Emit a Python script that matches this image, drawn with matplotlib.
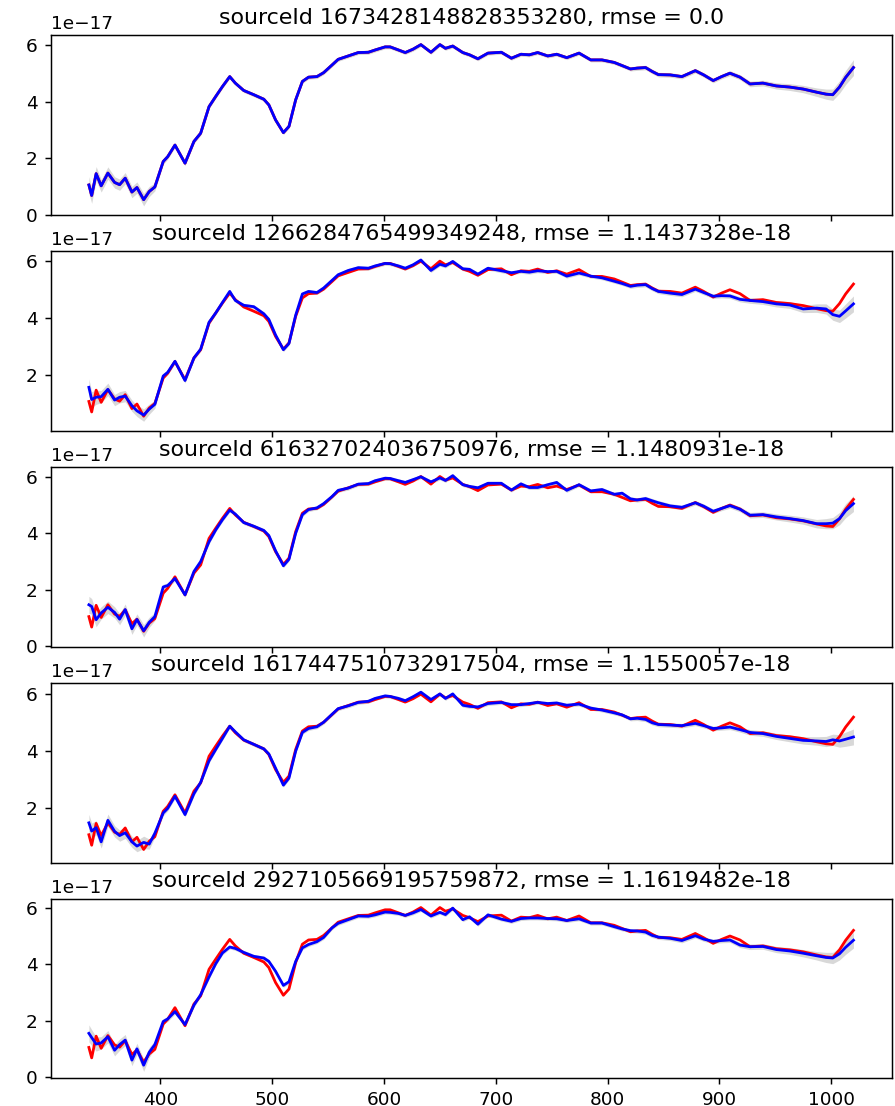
import matplotlib
matplotlib.use("Agg")
import matplotlib.pyplot as plt
import numpy as np

# wavelength grid (nm)
wavelength = [336, 338.5, 342.5, 347, 353, 359, 363.5, 368.5, 374.5, 379,
              385, 390, 395, 402.5, 406.5, 413, 422, 430, 436, 443.5,
              449.5, 455.5, 462, 467, 474.5, 483.5, 492.5, 497, 503, 510,
              515, 521, 527, 532.5, 540, 546, 553.5, 559, 568, 577,
              586, 592, 601, 605.5, 613, 619, 626, 633, 642, 650,
              655, 661.5, 670.5, 676.5, 684, 693, 705, 714, 722.5, 730,
              737.5, 746.5, 754.5, 763.5, 774.5, 785, 795, 806, 813, 820.5,
              826.5, 834, 840, 845.5, 856, 866.5, 878.5, 886, 894.5, 902,
              909.5, 918.5, 927.5, 939, 951, 963, 975, 987, 995.5, 1001.5,
              1007.5, 1013, 1020]

# reference spectrum (x 1e-17), red in every panel
ref_flux = [1.05, 0.68, 1.45, 1.02, 1.47, 1.14, 1.06, 1.29, 0.80, 0.96,
            0.53, 0.82, 0.98, 1.88, 2.05, 2.46, 1.82, 2.59, 2.88, 3.82,
            4.18, 4.53, 4.88, 4.65, 4.39, 4.24, 4.08, 3.88, 3.35, 2.90,
            3.12, 4.06, 4.71, 4.86, 4.88, 5.02, 5.29, 5.49, 5.61, 5.73,
            5.74, 5.82, 5.93, 5.93, 5.82, 5.73, 5.85, 6.01, 5.74, 6.01,
            5.88, 5.96, 5.73, 5.65, 5.51, 5.71, 5.74, 5.53, 5.67, 5.65,
            5.73, 5.61, 5.67, 5.55, 5.71, 5.47, 5.47, 5.38, 5.27, 5.15,
            5.18, 5.20, 5.06, 4.95, 4.94, 4.88, 5.09, 4.94, 4.74, 4.88,
            5.00, 4.86, 4.62, 4.65, 4.55, 4.51, 4.44, 4.33, 4.26, 4.24,
            4.51, 4.85, 5.20]

# neighbours (blue)
flux_1266 = [1.55, 1.12, 1.20, 1.22, 1.48, 1.10, 1.20, 1.24, 0.90, 0.72,
             0.57, 0.78, 0.95, 1.95, 2.08, 2.47, 1.79, 2.59, 2.90, 3.85,
             4.18, 4.55, 4.94, 4.62, 4.45, 4.40, 4.15, 3.95, 3.40, 2.88,
             3.10, 4.10, 4.85, 4.94, 4.90, 5.06, 5.33, 5.53, 5.68, 5.78,
             5.76, 5.84, 5.93, 5.92, 5.84, 5.76, 5.88, 6.05, 5.68, 5.90,
             5.84, 6.00, 5.74, 5.72, 5.55, 5.76, 5.67, 5.60, 5.65, 5.62,
             5.67, 5.64, 5.65, 5.48, 5.59, 5.48, 5.42, 5.30, 5.22, 5.12,
             5.16, 5.18, 5.04, 4.94, 4.88, 4.83, 5.02, 4.90, 4.77, 4.79,
             4.78, 4.66, 4.62, 4.58, 4.50, 4.46, 4.32, 4.35, 4.32, 4.12,
             4.06, 4.25, 4.50]

flux_6163 = [1.47, 1.41, 0.94, 1.18, 1.38, 1.20, 0.96, 1.30, 0.62, 0.95,
             0.55, 0.85, 1.05, 2.10, 2.15, 2.40, 1.82, 2.65, 3.00, 3.70,
             4.12, 4.48, 4.82, 4.68, 4.38, 4.25, 4.10, 3.92, 3.38, 2.85,
             3.08, 4.00, 4.66, 4.84, 4.90, 5.05, 5.30, 5.52, 5.60, 5.74,
             5.76, 5.86, 5.95, 5.94, 5.86, 5.80, 5.90, 6.00, 5.82, 5.96,
             5.87, 6.04, 5.72, 5.66, 5.61, 5.77, 5.77, 5.53, 5.75, 5.62,
             5.62, 5.72, 5.80, 5.52, 5.72, 5.50, 5.55, 5.38, 5.42, 5.22,
             5.18, 5.23, 5.15, 5.08, 4.97, 4.92, 5.08, 4.96, 4.78, 4.88,
             4.98, 4.85, 4.64, 4.66, 4.58, 4.52, 4.45, 4.34, 4.34, 4.36,
             4.52, 4.80, 5.05]

flux_1617 = [1.47, 1.18, 1.30, 0.80, 1.56, 1.17, 1.02, 1.12, 0.80, 0.65,
             0.78, 0.72, 1.10, 1.82, 1.98, 2.41, 1.76, 2.50, 2.90, 3.66,
             4.06, 4.45, 4.88, 4.68, 4.40, 4.24, 4.08, 3.90, 3.40, 2.80,
             3.05, 4.00, 4.66, 4.80, 4.86, 5.02, 5.30, 5.50, 5.60, 5.72,
             5.76, 5.86, 5.95, 5.93, 5.86, 5.78, 5.92, 6.08, 5.82, 6.02,
             5.86, 6.02, 5.62, 5.58, 5.56, 5.68, 5.72, 5.64, 5.64, 5.68,
             5.72, 5.68, 5.70, 5.62, 5.66, 5.52, 5.45, 5.35, 5.28, 5.14,
             5.16, 5.12, 5.00, 4.94, 4.92, 4.90, 4.98, 4.90, 4.80, 4.82,
             4.85, 4.76, 4.66, 4.62, 4.52, 4.45, 4.38, 4.36, 4.34, 4.40,
             4.36, 4.42, 4.50]

flux_2927 = [1.55, 1.40, 1.17, 1.21, 1.43, 0.95, 1.15, 1.31, 0.60, 1.00,
             0.42, 0.88, 1.15, 1.97, 2.06, 2.32, 1.86, 2.55, 2.92, 3.55,
             4.02, 4.40, 4.61, 4.56, 4.42, 4.28, 4.22, 4.10, 3.75, 3.25,
             3.38, 4.10, 4.58, 4.70, 4.80, 4.95, 5.29, 5.45, 5.58, 5.71,
             5.70, 5.75, 5.85, 5.84, 5.80, 5.73, 5.82, 5.94, 5.71, 5.84,
             5.76, 5.99, 5.58, 5.68, 5.42, 5.75, 5.60, 5.52, 5.62, 5.64,
             5.64, 5.62, 5.61, 5.55, 5.61, 5.46, 5.46, 5.33, 5.25, 5.19,
             5.18, 5.14, 5.02, 4.96, 4.92, 4.84, 5.01, 4.89, 4.81, 4.84,
             4.86, 4.68, 4.62, 4.63, 4.52, 4.47, 4.39, 4.30, 4.24, 4.22,
             4.37, 4.60, 4.85]

# flux uncertainty (x 1e-17), grey band
flux_err = [0.30, 0.28, 0.25, 0.22, 0.22, 0.20, 0.20, 0.20, 0.20, 0.20,
            0.22, 0.18, 0.14, 0.10, 0.09, 0.09, 0.09, 0.08, 0.08, 0.08,
            0.07, 0.07, 0.07, 0.07, 0.07, 0.07, 0.07, 0.07, 0.07, 0.07,
            0.07, 0.07, 0.07, 0.07, 0.07, 0.07, 0.07, 0.07, 0.07, 0.07,
            0.07, 0.07, 0.07, 0.07, 0.07, 0.07, 0.07, 0.07, 0.07, 0.07,
            0.07, 0.07, 0.07, 0.07, 0.07, 0.07, 0.07, 0.07, 0.07, 0.07,
            0.07, 0.07, 0.07, 0.07, 0.07, 0.07, 0.07, 0.07, 0.07, 0.07,
            0.08, 0.08, 0.08, 0.08, 0.08, 0.08, 0.08, 0.08, 0.08, 0.08,
            0.09, 0.09, 0.10, 0.10, 0.11, 0.12, 0.13, 0.15, 0.18, 0.20,
            0.22, 0.25, 0.28]

source_ids = ["1673428148828353280", "1266284765499349248", "616327024036750976",
              "1617447510732917504", "2927105669195759872"]
rmse_values = ["0.0", "1.1437328e-18", "1.1480931e-18", "1.1550057e-18", "1.1619482e-18"]
neighbour_flux = [ref_flux, flux_1266, flux_6163, flux_1617, flux_2927]

scale = 1e-17
wl = np.array(wavelength)
ref = np.array(ref_flux) * scale
err = np.array(flux_err) * scale

# y ranges as seen on each panel (units of 1e-17)
y_ranges = [(0.0, 6.36), (0.02, 6.38), (-0.01, 6.36), (0.07, 6.42), (-0.05, 6.33)]

fig, axes = plt.subplots(5, 1, sharex=True, figsize=(895 / 133, 1106 / 133), dpi=133)
fig.subplots_adjust(left=0.0566, right=0.9963, top=0.9686, bottom=0.0249, hspace=0.2)

for ax, sid, rmse, flux, yr in zip(axes, source_ids, rmse_values, neighbour_flux, y_ranges):
    f = np.array(flux) * scale
    ax.fill_between(wl, f - err, f + err, color="grey", alpha=0.3, linewidth=0)
    ax.plot(wl, ref, color="r")
    ax.plot(wl, f, color="b")
    ax.set_ylim(yr[0] * scale, yr[1] * scale)
    ax.set_title(f"sourceId {sid}, rmse = {rmse}")

fig.savefig("out.png", dpi=133)
